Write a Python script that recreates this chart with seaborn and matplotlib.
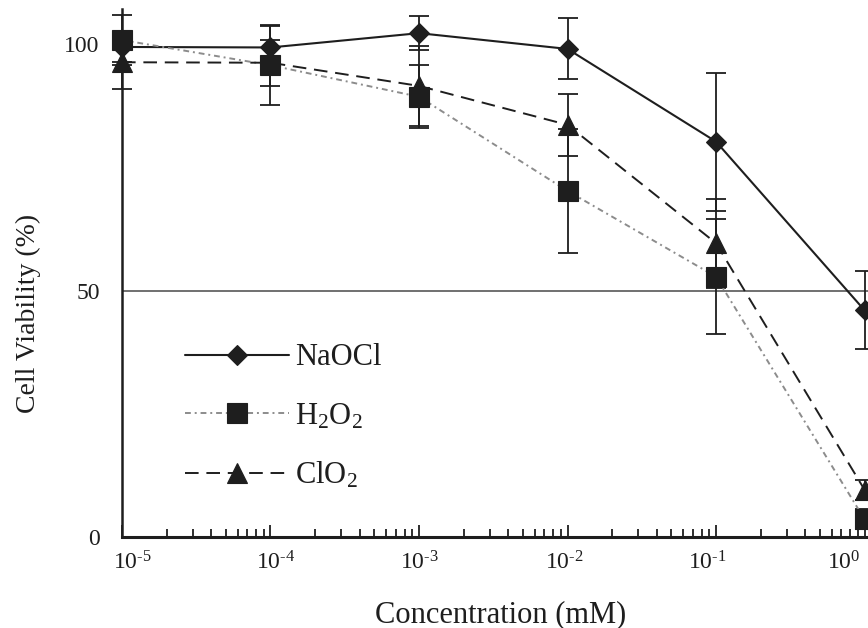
import numpy as np
import pandas as pd
import matplotlib
matplotlib.use("Agg")
import matplotlib.pyplot as plt
import matplotlib.transforms as mtransforms
from matplotlib.ticker import FixedLocator, LogLocator, NullFormatter
import seaborn as sns

# ---------------- data ----------------
conc = [1e-5, 1e-4, 1e-3, 1e-2, 1e-1, 1e0]
naocl = [99.4, 99.3, 102.2, 99.0, 80.2, 46.0]
naocl_err = [3.0, 4.6, 3.5, 6.2, 14.0, 7.9]
h2o2 = [100.8, 95.7, 89.3, 70.2, 52.8, 3.6]
h2o2_err = [5.1, 8.0, 6.4, 12.6, 11.7, 2.0]
clo2 = [96.3, 96.2, 91.5, 83.6, 59.6, 9.6]
clo2_err = [5.4, 4.7, 8.1, 6.3, 9.0, 2.0]
series_names = ["NaOCl", "H$_\\mathdefault{2}$O$_\\mathdefault{2}$", "ClO$_\\mathdefault{2}$"]
xtick_vals = [1e-5, 1e-4, 1e-3, 1e-2, 1e-1, 1e0]
xtick_labels = ["$\\mathdefault{10^{\\text{-}5}}$", "$\\mathdefault{10^{\\text{-}4}}$",
                "$\\mathdefault{10^{\\text{-}3}}$", "$\\mathdefault{10^{\\text{-}2}}$",
                "$\\mathdefault{10^{\\text{-}1}}$", "$\\mathdefault{10^{0}}$"]
ytick_vals = [0, 50, 100]
xlabel = "Concentration (mM)"
ylabel = "Cell Viability (%)"

# ---------------- style ----------------
sns.set_style("ticks")
plt.rcParams["font.family"] = ["Liberation Serif", "DejaVu Serif"]
plt.rcParams["mathtext.fontset"] = "custom"
plt.rcParams["mathtext.rm"] = "Liberation Serif"
plt.rcParams["mathtext.it"] = "Liberation Serif:italic"
plt.rcParams["mathtext.bf"] = "Liberation Serif:bold"
plt.rcParams["axes.unicode_minus"] = False

W, H = 868, 628
fig = plt.figure(figsize=(W / 100, H / 100), dpi=100)
ax = fig.add_axes([122 / W, (H - 537) / H, 746 / W, 528 / H])

mk_color = "#1e1e1e"
styles = [
    dict(marker="D", markersize=10.5, linestyle="-", color="#1e1e1e", lw=1.5),
    dict(marker="s", markersize=14.5, linestyle=(0, (3, 2, 1, 2)), color="#8c8c8c", lw=1.4),
    dict(marker="^", markersize=15, linestyle=(0, (7, 4)), color="#1e1e1e", lw=1.4),
]
values = [naocl, h2o2, clo2]
errors = [naocl_err, h2o2_err, clo2_err]

ax.axhline(50, color="#707070", lw=1.4, zorder=1)

for name, vals, errs, st in zip(series_names, values, errors, styles):
    df = pd.DataFrame({"conc": conc, "viab": vals})
    ax.errorbar(conc, vals, yerr=errs, fmt="none", ecolor="#1e1e1e",
                elinewidth=1.3, capsize=7.5, capthick=1.3, zorder=2, clip_on=False)
    sns.lineplot(data=df, x="conc", y="viab", ax=ax, label=name,
                 color=st["color"], linestyle=st["linestyle"], lw=st["lw"],
                 marker=st["marker"], markersize=st["markersize"],
                 markerfacecolor=mk_color, markeredgecolor=mk_color,
                 markeredgewidth=0.8, zorder=3, clip_on=False)

ax.set_xscale("log")
ax.set_xlim(1e-5, 10 ** (746 / 148.5 - 5))
ax.set_ylim(0, 107.1)

ax.xaxis.set_major_locator(FixedLocator(xtick_vals))
ax.set_xticks(xtick_vals, xtick_labels)
ax.xaxis.set_minor_locator(LogLocator(base=10, subs=np.arange(2, 10)))
ax.xaxis.set_minor_formatter(NullFormatter())
ax.set_yticks(ytick_vals)
ax.set_yticklabels([str(v) for v in ytick_vals])

ax.tick_params(axis="x", which="major", direction="in", length=9, width=1.3,
               pad=10, labelsize=17, colors="#1e1e1e")
ax.tick_params(axis="x", which="minor", direction="in", length=5.5, width=1.3,
               colors="#1e1e1e")
ax.tick_params(axis="y", which="both", length=0, pad=16, labelsize=17,
               colors="#1e1e1e")

sns.despine(ax=ax)
ax.spines["bottom"].set_linewidth(2.2)
ax.spines["left"].set_linewidth(1.8)
ax.spines["bottom"].set_color("#1e1e1e")
ax.spines["left"].set_color("#1e1e1e")

# small per-label horizontal nudges (in px) as in the original figure
nudges = [10, 5, 0, -3, -9, -21]
for lab, dx in zip(ax.get_xticklabels(), nudges):
    lab.set_transform(lab.get_transform() +
                      mtransforms.ScaledTranslation(dx / 100, 0, fig.dpi_scale_trans))

ax.set_xlabel(xlabel, fontsize=22, color="#1e1e1e")
ax.set_ylabel(ylabel, fontsize=20, color="#1e1e1e")
ax.xaxis.set_label_coords(0.507, -0.119)
ax.yaxis.set_label_coords(-0.108, 0.424)

leg = ax.legend(loc="upper left", bbox_to_anchor=(0.0845, 0.367), frameon=False,
                fontsize=22, handlelength=3.4, handletextpad=0.2, labelspacing=0.96,
                borderpad=0, borderaxespad=0, numpoints=1)
for t in leg.get_texts():
    t.set_color("#1e1e1e")

fig.savefig("out.png", dpi=100)
